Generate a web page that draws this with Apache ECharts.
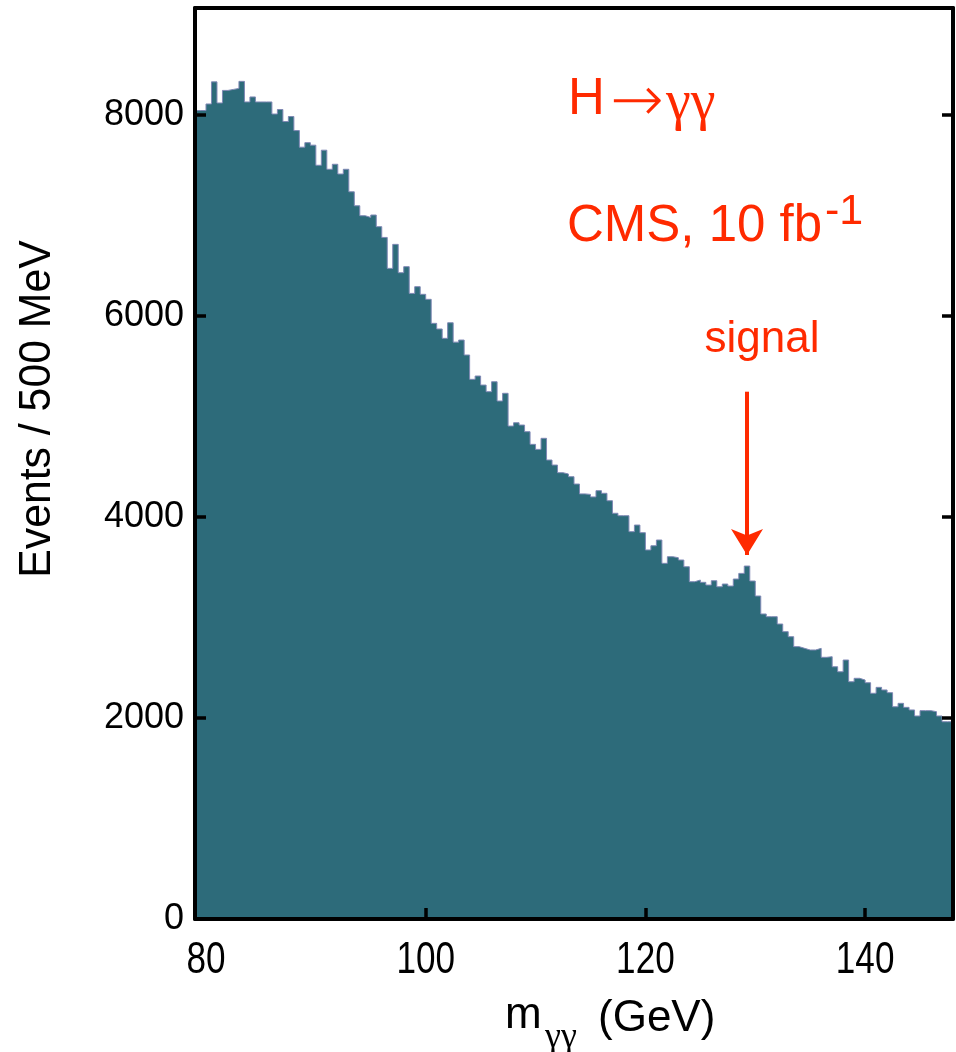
<!DOCTYPE html>
<html>
<head>
<meta charset="utf-8">
<script src="https://cdn.jsdelivr.net/npm/echarts@6/dist/echarts.min.js"></script>
<style>
html, body { margin: 0; padding: 0; background: #fff; }
#show { width: 956px; height: 1052px; }
</style>
</head>
<body>
<div id="show"></div>
<script>
// histogram bins: 79 - 148 GeV, 0.5 GeV wide
var binStart = 79;
var binWidth = 0.5;
var counts = [
	8045, 8045, 8110, 8330, 8120, 8245, 8255, 8265, 8335, 8130,
	8180, 8130, 8130, 8130, 8010, 8055, 7935, 7985, 7845, 7680,
	7725, 7700, 7500, 7650, 7460, 7510, 7413, 7460, 7236, 7097,
	6998, 6981, 7005, 6889, 6782, 6474, 6713, 6431, 6491, 6225,
	6292, 6216, 6166, 5927, 5871, 5778, 5933, 5740, 5761, 5612,
	5370, 5403, 5313, 5247, 5346, 5154, 5231, 4905, 4938, 4915,
	4849, 4723, 4673, 4783, 4567, 4517, 4441, 4428, 4401, 4328,
	4230, 4225, 4200, 4262, 4236, 4162, 4037, 4013, 4013, 3854,
	3920, 3844, 3672, 3714, 3771, 3539, 3605, 3595, 3572, 3505,
	3356, 3373, 3350, 3323, 3366, 3306, 3333, 3313, 3383, 3439,
	3512, 3363, 3214, 3035, 3008, 3008, 2935, 2859, 2809, 2710,
	2693, 2677, 2677, 2693, 2604, 2610, 2510, 2460, 2577, 2361,
	2395, 2378, 2351, 2246, 2305, 2279, 2252, 2112, 2146, 2106,
	2080, 2020, 2073, 2073, 2063, 2020, 1963, 1963
];

// axes
var xLabels = [80, 100, 120, 140];
var xTicks = [100, 120, 140];
var yLabels = [0, 2000, 4000, 6000, 8000];
var yTicks = [2000, 4000, 6000, 8000];

// signal arrow (GeV, events)
var signalMass = 129.25;
var arrowTop = 5247;
var arrowEnd = 3622;

var fillColor = '#2d6b7a';
var red = '#ff2a00';

// step line points: lower edge of every bin + closing edge
var histData = [];
for (var i = 0; i < counts.length; i++) {
	histData.push([binStart + i * binWidth, counts[i]]);
}
histData.push([binStart + counts.length * binWidth, counts[counts.length - 1]]);

var myEchart = echarts.init(document.getElementById('show'));

var axisLine = { show: true, onZero: false, lineStyle: { color: '#000', width: 4 } };
var tickStyle = { color: '#000', width: 3.5 };

var option = {
	animation: false,
	backgroundColor: '#fff',
	grid: { left: 195, right: 3, top: 8, bottom: 133 },
	xAxis: [{
		type: 'value', min: 79, max: 148, position: 'bottom', z: 5,
		axisLine: axisLine,
		axisTick: { show: true, inside: true, length: 11, lineStyle: tickStyle, customValues: xTicks },
		// labels drawn below as graphic text (narrow font)
		axisLabel: { show: false },
		splitLine: { show: false }
	}, {
		type: 'value', min: 79, max: 148, position: 'top', z: 5,
		axisLine: axisLine,
		axisTick: { show: false },
		axisLabel: { show: false },
		splitLine: { show: false }
	}],
	yAxis: [{
		type: 'value', min: 0, max: 9065, position: 'left', z: 5,
		axisLine: axisLine,
		axisTick: { show: true, inside: true, length: 11, lineStyle: tickStyle, customValues: yTicks },
		axisLabel: {
			customValues: yLabels, margin: 11, color: '#000', fontSize: 36,
			fontFamily: "'Liberation Sans', sans-serif",
			formatter: function (v) { return String(v); }
		},
		splitLine: { show: false }
	}, {
		type: 'value', min: 0, max: 9065, position: 'right', z: 5,
		axisLine: axisLine,
		axisTick: { show: true, inside: true, length: 11, lineStyle: tickStyle, customValues: yTicks },
		axisLabel: { show: false },
		splitLine: { show: false }
	}],
	series: [{
		type: 'line',
		step: 'end',
		data: histData,
		xAxisIndex: 0,
		yAxisIndex: 0,
		z: 2,
		symbol: 'none',
		silent: true,
		lineStyle: { color: '#7f88b4', width: 1 },
		areaStyle: { color: fillColor, opacity: 1 },
		markLine: {
			silent: true,
			animation: false,
			label: { show: false },
			lineStyle: { color: red, width: 4, type: 'solid' },
			emphasis: { disabled: true },
			data: [[
				{ coord: [signalMass, arrowTop], symbol: 'none' },
				{ coord: [signalMass, arrowEnd], symbol: 'arrow', symbolSize: [24, 26] }
			]]
		}
	}]
};

myEchart.setOption(option);

// texts
var graphics = [
	{ type: 'text', x: 568, y: 100, style: { text: 'H', fill: red, fontSize: 51, fontFamily: 'Liberation Sans', align: 'left', verticalAlign: 'middle' } },
	{ type: 'text', x: 610, y: 104, style: { text: '→', fill: red, fontSize: 64, fontWeight: 200, fontFamily: 'DejaVu Sans', align: 'left', verticalAlign: 'middle' } },
	{ type: 'text', x: 666, y: 104, style: { text: 'γγ', fill: red, fontSize: 56, fontFamily: 'Liberation Serif', align: 'left', verticalAlign: 'middle' } },
	{ type: 'text', x: 567, y: 227, style: { text: 'CMS, 10 fb', fill: red, fontSize: 51, fontFamily: 'Liberation Sans', align: 'left', verticalAlign: 'middle' } },
	{ type: 'text', x: 825, y: 212, style: { text: '-1', fill: red, fontSize: 43, fontFamily: 'Liberation Sans', align: 'left', verticalAlign: 'middle' } },
	{ type: 'text', x: 762, y: 340, style: { text: 'signal', fill: red, fontSize: 44, fontFamily: 'Liberation Sans', align: 'center', verticalAlign: 'middle' } },
	{ type: 'text', x: 38, y: 409, rotation: Math.PI / 2, scaleX: 0.95, style: { text: 'Events / 500 MeV', fill: '#000', fontSize: 45, fontFamily: 'Liberation Sans', align: 'center', verticalAlign: 'middle' } },
	{ type: 'text', x: 505, y: 1016, style: { text: 'm', fill: '#000', fontSize: 44, fontFamily: 'Liberation Sans', align: 'left', verticalAlign: 'middle' } },
	{ type: 'text', x: 545, y: 1038, style: { text: 'γγ', fill: '#000', fontSize: 36, fontFamily: 'Liberation Serif', align: 'left', verticalAlign: 'middle' } },
	{ type: 'text', x: 598, y: 1019, style: { text: '(GeV)', fill: '#000', fontSize: 44, fontFamily: 'Liberation Sans', align: 'left', verticalAlign: 'middle' } }
];

// x tick labels, placed with the axis scale
for (var k = 0; k < xLabels.length; k++) {
	var px = myEchart.convertToPixel({ xAxisIndex: 0 }, xLabels[k]);
	graphics.push({
		type: 'text', x: px, y: 961, scaleX: 0.78,
		style: { text: String(xLabels[k]), fill: '#000', fontSize: 45, fontFamily: 'Liberation Sans', align: 'center', verticalAlign: 'middle' }
	});
}

myEchart.setOption({ graphic: graphics });
</script>
</body>
</html>
